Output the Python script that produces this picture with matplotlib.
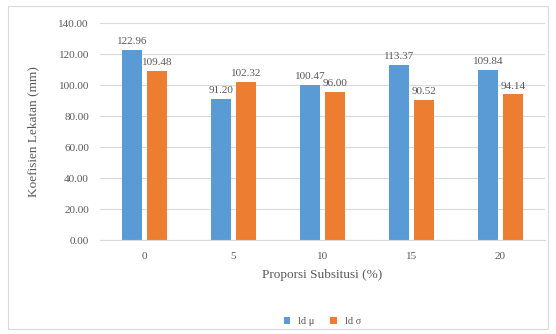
import numpy as np
import matplotlib.pyplot as plt

plt.rcParams['font.family'] = ['Liberation Serif', 'DejaVu Serif']

kategori = ['0', '5', '10', '15', '20']
ld_mu = [122.96, 91.20, 100.47, 113.37, 109.84]
ld_sigma = [109.48, 102.32, 96.00, 90.52, 94.14]
yticks = [0, 20, 40, 60, 80, 100, 120, 140]

biru = '#5B9BD5'
oranye = '#ED7D31'
abu = '#595959'

fig = plt.figure(figsize=(5.56, 3.34), dpi=100)
# bingkai luar chart
fig.patches.append(plt.Rectangle((0.014, 0.015), 0.972, 0.968, transform=fig.transFigure,
                                 fill=False, edgecolor='#d9d9d9', linewidth=0.8))
ax = fig.add_axes([0.18, 0.28, 0.80, 0.65])

x = np.arange(len(kategori))
w = 0.22
b1 = ax.bar(x - 0.14, ld_mu, w, color=biru, label='ld μ')
b2 = ax.bar(x + 0.14, ld_sigma, w, color=oranye, label='ld σ')

for rects, vals in [(b1, ld_mu), (b2, ld_sigma)]:
    for r, v in zip(rects, vals):
        ax.text(r.get_x() + r.get_width() / 2, v + 2.5, '%.2f' % v,
                ha='center', va='bottom', fontsize=8, color=abu)

ax.set_xlim(-0.5, len(kategori) - 0.5)
ax.set_ylim(0, 140)
ax.set_yticks(yticks)
ax.set_yticklabels(['%.2f' % t for t in yticks])
ax.set_xticks(x)
ax.set_xticklabels(kategori)
ax.tick_params(length=0, labelsize=8, colors=abu, pad=8)
ax.yaxis.grid(True, color='#d9d9d9', linewidth=0.8)
ax.set_axisbelow(True)
for s in ['top', 'right', 'left']:
    ax.spines[s].set_visible(False)
ax.spines['bottom'].set_color('#d9d9d9')

ax.set_ylabel('Koefisien Lekatan (mm)', fontsize=9.5, color=abu, labelpad=14)
ax.set_xlabel('Proporsi Subsitusi (%)', fontsize=9.5, color=abu, labelpad=6)

ax.legend(loc='upper center', bbox_to_anchor=(0.5, -0.31), ncol=2, frameon=False,
          fontsize=7.5, handlelength=0.6, handleheight=0.6, columnspacing=1.5,
          labelcolor=abu)

fig.savefig('out.png', dpi=100)
